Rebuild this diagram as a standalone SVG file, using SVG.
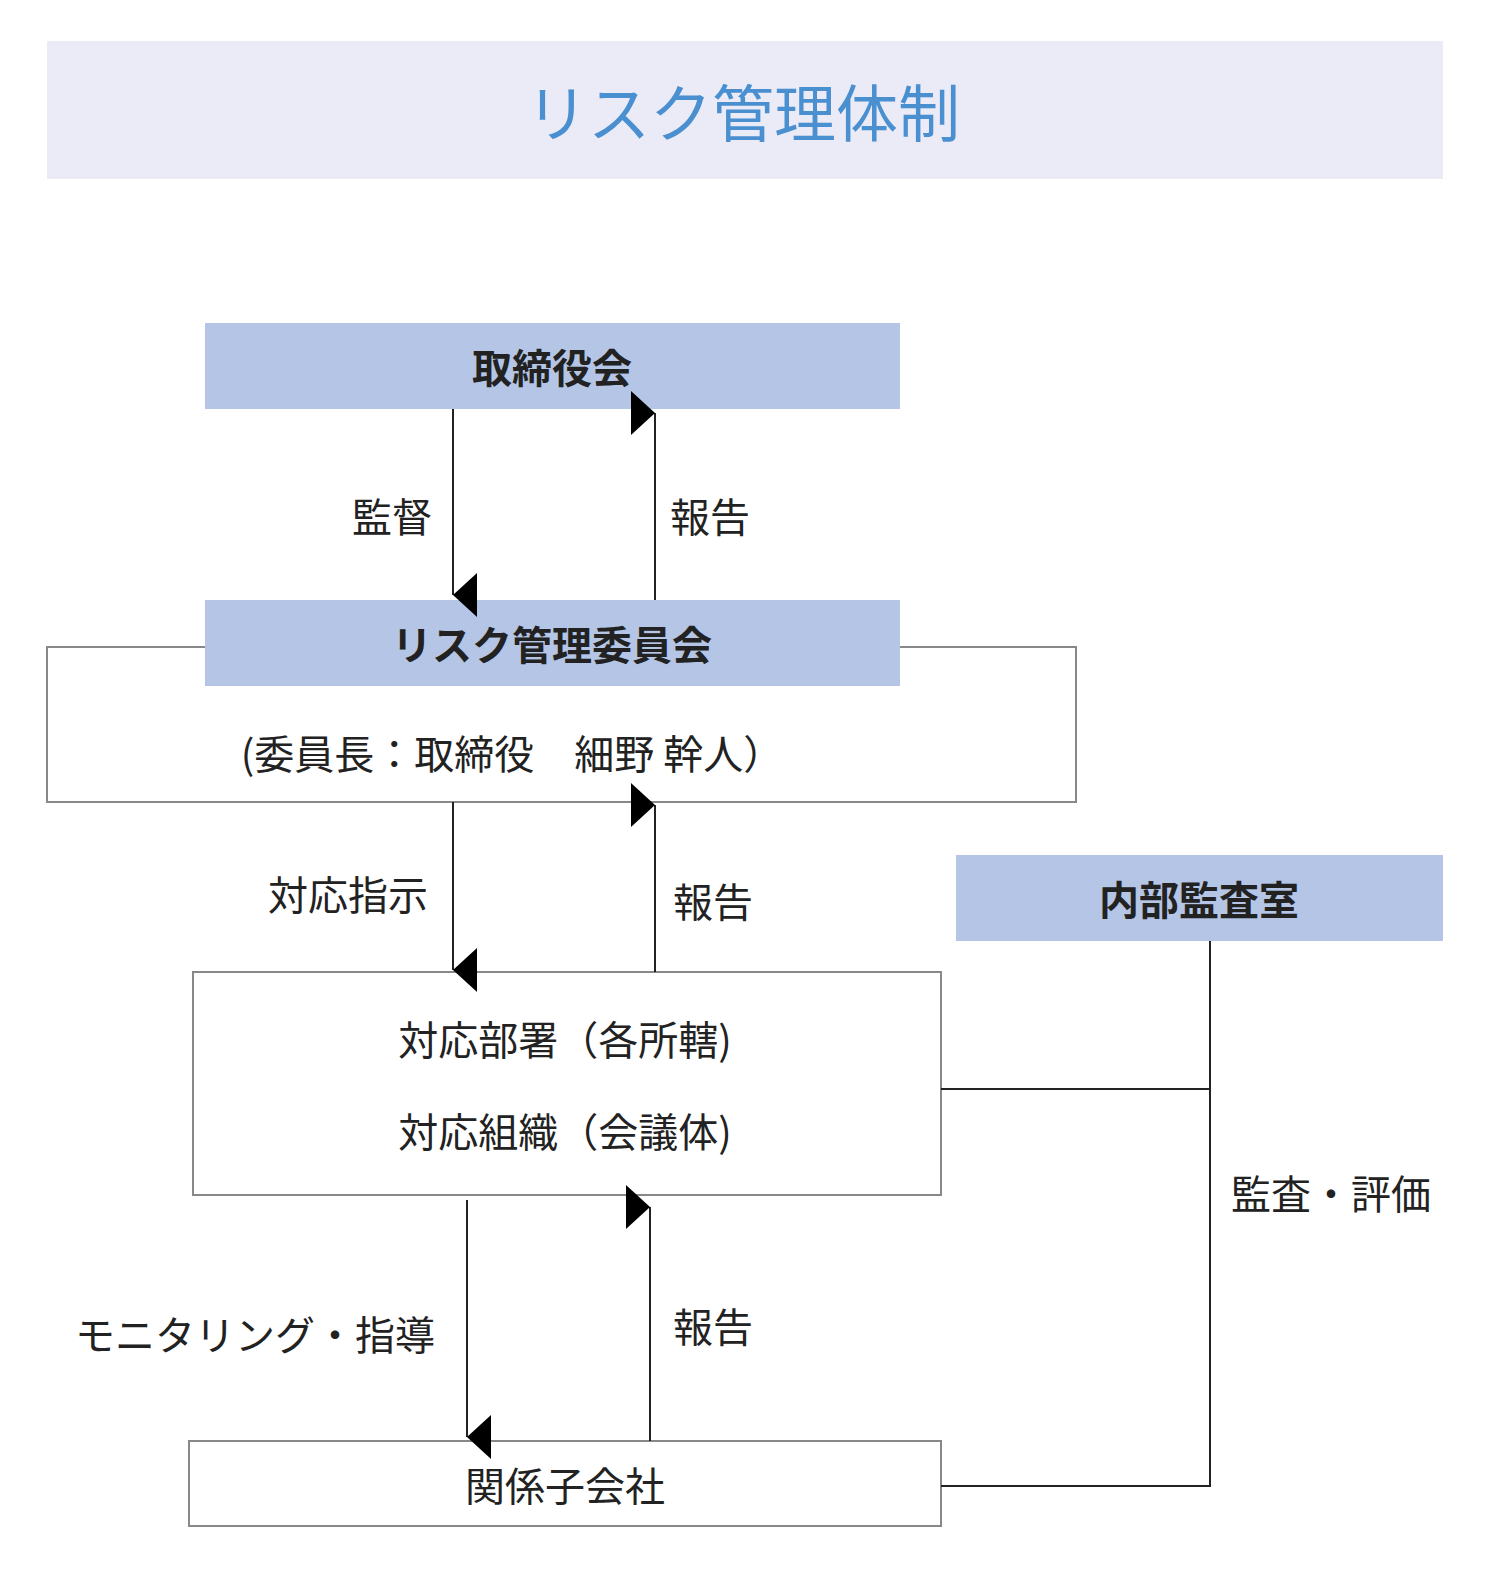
<svg xmlns="http://www.w3.org/2000/svg" width="1500" height="1575" viewBox="0 0 1500 1575">
<style>
text{font-family:"Noto Sans CJK JP","Noto Sans",sans-serif;fill:#222;text-anchor:middle;dominant-baseline:central}
.hd{fill:#b4c5e6}
.bx{fill:#fff;stroke:#888;stroke-width:2}
.b{font-weight:bold;font-size:40px}
.n{font-size:40px}
.ln{stroke:#222;stroke-width:2;fill:none}
</style>
<defs>
<marker id="ah" markerUnits="userSpaceOnUse" markerWidth="44" markerHeight="24" viewBox="0 0 44 24" refX="22" refY="24" orient="auto-start-reverse">
<path d="M0 0 L44 0 L22 24 Z" fill="#000"/>
</marker>
</defs>
<rect x="47" y="41" width="1396" height="138" fill="#ebebf7"/>
<text x="743" y="110" style="font-size:62px;fill:#4a90d0">リスク管理体制</text>
<g id="board"><rect class="hd" x="205" y="323" width="695" height="86"/><text class="b" x="552" y="366">取締役会</text></g>
<g id="committee"><rect class="bx" x="47" y="647" width="1029" height="155"/><rect class="hd" x="205" y="600" width="695" height="86"/><text class="b" x="552" y="643">リスク管理委員会</text><text class="n" x="512" y="752">(委員長：取締役　細野 幹人）</text></g>
<g id="audit"><rect class="hd" x="956" y="855" width="487" height="86"/><text class="b" x="1199" y="898">内部監査室</text></g>
<g id="dept"><rect class="bx" x="193" y="972" width="748" height="223"/><text class="n" x="565" y="1038">対応部署（各所轄)</text><text class="n" x="565" y="1130">対応組織（会議体)</text></g>
<g id="sub"><rect class="bx" x="189" y="1441" width="752" height="85"/><text class="n" x="565" y="1484">関係子会社</text></g>
<g id="connectors">
<line class="ln" x1="453" y1="409" x2="453" y2="595" marker-end="url(#ah)"/>
<line class="ln" x1="655" y1="600" x2="655" y2="413" marker-end="url(#ah)"/>
<line class="ln" x1="453" y1="802" x2="453" y2="970" marker-end="url(#ah)"/>
<line class="ln" x1="655" y1="972" x2="655" y2="805" marker-end="url(#ah)"/>
<line class="ln" x1="467" y1="1200" x2="467" y2="1437" marker-end="url(#ah)"/>
<line class="ln" x1="650" y1="1441" x2="650" y2="1207" marker-end="url(#ah)"/>
<polyline class="ln" points="1210,941 1210,1486 941,1486"/>
<line class="ln" x1="941" y1="1089" x2="1210" y2="1089"/>
<text class="n" x="392" y="515">監督</text>
<text class="n" x="710" y="515">報告</text>
<text class="n" x="348" y="893">対応指示</text>
<text class="n" x="713" y="900">報告</text>
<text class="n" x="255" y="1333">モニタリング・指導</text>
<text class="n" x="713" y="1325">報告</text>
<text class="n" x="1331" y="1192">監査・評価</text>
</g>
</svg>
